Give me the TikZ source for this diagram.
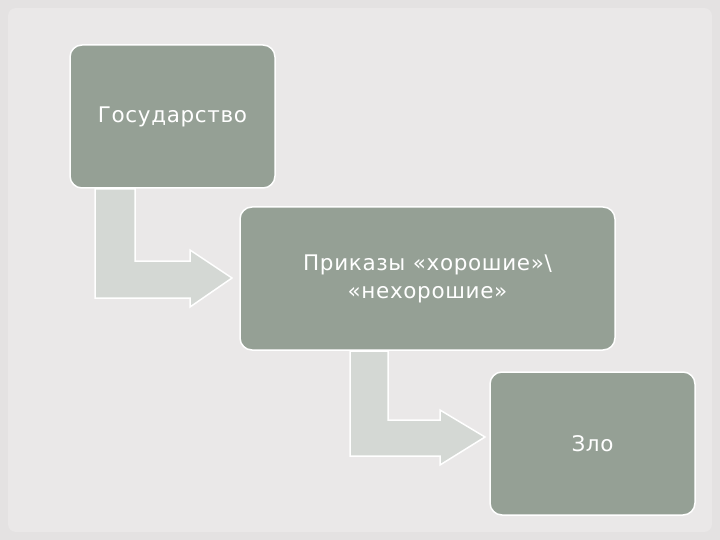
\documentclass[tikz,border=0pt]{standalone}
\usepackage{fontspec}
\setmainfont{DejaVu Sans}[LetterSpace=3]
\definecolor{bg}{HTML}{E4E2E2}
\definecolor{inner}{HTML}{EAE8E8}
\definecolor{boxc}{HTML}{95A095}
\definecolor{arr}{HTML}{D4D8D4}
\begin{document}
\begin{tikzpicture}[x=1pt,y=-1pt,
  box/.style={draw=white,line width=1.5pt,fill=boxc,rounded corners=12pt,text=white,font=\fontsize{21.5}{28}\selectfont,align=center,inner sep=0pt},
  arrowshape/.style={draw=white,line width=1.5pt,fill=arr}]
\fill[bg] (0,0) rectangle (720,540);
\fill[inner,rounded corners=8pt] (8,8) rectangle (712,532);
\node[box,minimum width=205pt,minimum height=143pt] (a) at (172.5,116.5) {Государство};
\node[box,minimum width=375pt,minimum height=143pt] (b) at (427.5,278.5) {Приказы «хорошие»\textbackslash\\«нехорошие»};
\node[box,minimum width=205pt,minimum height=143pt] (c) at (592.5,443.5) {Зло};
\draw[arrowshape] (95,189) -- (135,189) -- (135,261) -- (190,261) -- (190,250) -- (232,278) -- (190,307) -- (190,298) -- (95,298) -- cycle;
\draw[arrowshape] (350,351) -- (388,351) -- (388,420) -- (440,420) -- (440,410) -- (485,437) -- (440,465) -- (440,456) -- (350,456) -- cycle;
\end{tikzpicture}
\end{document}
